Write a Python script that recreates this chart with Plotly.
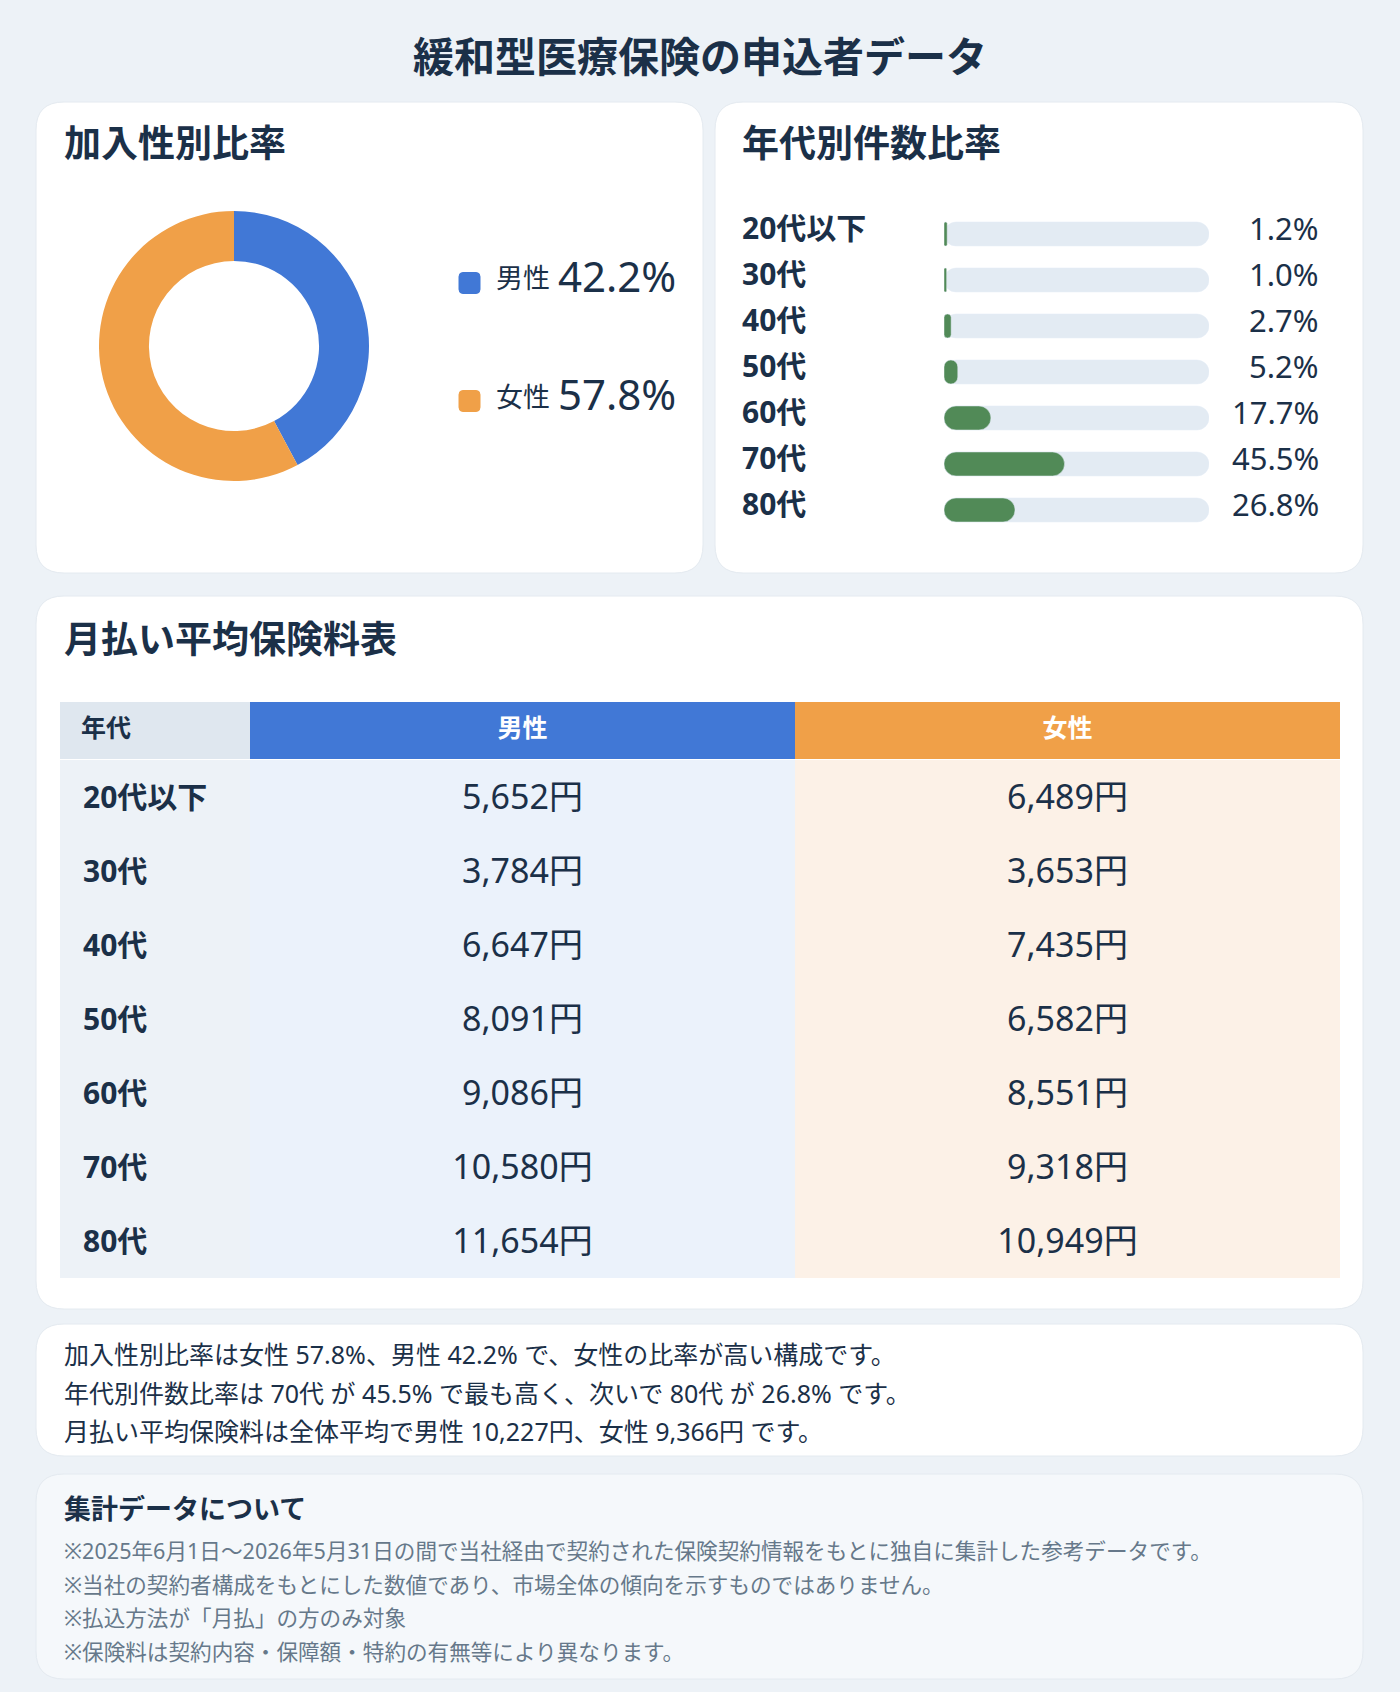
import plotly.graph_objects as go

W, H = 1400, 1692
FONT = "Noto Sans, Noto Sans CJK JP"
DARK = "#1b3048"

# ---------------- data ----------------
title_main = "緩和型医療保険の申込者データ"
gender_labels = ["男性", "女性"]
gender_share = [42.2, 57.8]
gender_colors = ["#4178d6", "#f0a048"]

age_labels = ["20代以下", "30代", "40代", "50代", "60代", "70代", "80代"]
age_share = [1.2, 1.0, 2.7, 5.2, 17.7, 45.5, 26.8]
track_full = [100] * len(age_labels)

premium_male = [5652, 3784, 6647, 8091, 9086, 10580, 11654]
premium_female = [6489, 3653, 7435, 6582, 8551, 9318, 10949]
table_header = ["年代", "男性", "女性"]

summary_lines = [
    "加入性別比率は女性 57.8%、男性 42.2% で、女性の比率が高い構成です。",
    "年代別件数比率は 70代 が 45.5% で最も高く、次いで 80代 が 26.8% です。",
    "月払い平均保険料は全体平均で男性 10,227円、女性 9,366円 です。",
]
notes_title = "集計データについて"
notes_lines = [
    "※2025年6月1日～2026年5月31日の間で当社経由で契約された保険契約情報をもとに独自に集計した参考データです。",
    "※当社の契約者構成をもとにした数値であり、市場全体の傾向を示すものではありません。",
    "※払込方法が「月払」の方のみ対象",
    "※保険料は契約内容・保障額・特約の有無等により異なります。",
]

# table layout (column widths in px, fills)
col_w = [190, 545, 545]
col_fill = ["#edf2f7", "#ebf2fb", "#fcf1e7"]
col_pad = 23


def px(x):
    return x / W


def py(y):
    return 1 - y / H


def rrect(x0, y0, x1, y1, r, fill, line="#e4eaf0"):
    pts = [
        f"M{px(x0 + r)},{py(y0)}",
        f"L{px(x1 - r)},{py(y0)}",
        f"Q{px(x1)},{py(y0)} {px(x1)},{py(y0 + r)}",
        f"L{px(x1)},{py(y1 - r)}",
        f"Q{px(x1)},{py(y1)} {px(x1 - r)},{py(y1)}",
        f"L{px(x0 + r)},{py(y1)}",
        f"Q{px(x0)},{py(y1)} {px(x0)},{py(y1 - r)}",
        f"L{px(x0)},{py(y0 + r)}",
        f"Q{px(x0)},{py(y0)} {px(x0 + r)},{py(y0)}",
        "Z",
    ]
    return dict(type="path", xref="paper", yref="paper", path=" ".join(pts),
                fillcolor=fill, line=dict(color=line, width=1), layer="below")


fig = go.Figure()
n = len(age_labels)

# ---------------- donut ----------------
cx, cy, r = 234, 346, 135
fig.add_trace(go.Pie(
    labels=gender_labels, values=gender_share, hole=0.63, sort=False,
    direction="clockwise", rotation=0,
    marker=dict(colors=gender_colors, line=dict(width=0)),
    textinfo="none", hoverinfo="label+percent", showlegend=False,
    domain=dict(x=[px(cx - r), px(cx + r)], y=[py(cy + r), py(cy - r)]),
))

# ---------------- age bars (track and value on overlaid axes) ----------------
fig.add_trace(go.Bar(
    x=track_full, base=[0] * n, y=age_labels, orientation="h",
    marker=dict(color="#e3ebf3", cornerradius=12),
    xaxis="x", yaxis="y", hoverinfo="skip", showlegend=False,
))
fig.add_trace(go.Bar(
    x=age_share, base=[0] * n, y=age_labels, orientation="h",
    marker=dict(color="#518a57", cornerradius=12),
    xaxis="x3", yaxis="y3", showlegend=False,
    hovertemplate="%{y}: %{x}%<extra></extra>",
))

# ---------------- table body: column fills ----------------
for i in range(3):
    fig.add_trace(go.Bar(
        x=[col_w[i]] * n, base=[sum(col_w[:i])] * n, y=age_labels, orientation="h",
        width=1, marker=dict(color=col_fill[i], line=dict(width=0), cornerradius=0),
        xaxis="x2", yaxis="y2", hoverinfo="skip", showlegend=False,
    ))

# table body text
fig.add_trace(go.Scatter(
    x=[col_pad] * n, y=age_labels, mode="text", text=age_labels,
    textposition="middle right", xaxis="x2", yaxis="y4",
    textfont=dict(family=FONT, size=30, color=DARK, weight="bold"),
    hoverinfo="skip", showlegend=False,
))
fig.add_trace(go.Scatter(
    x=[col_w[0] + col_w[1] / 2] * n, y=age_labels, mode="text",
    text=[f"{v:,}円" for v in premium_male],
    textposition="middle center", xaxis="x2", yaxis="y4",
    textfont=dict(family=FONT, size=34, color=DARK),
    hoverinfo="skip", showlegend=False,
))
fig.add_trace(go.Scatter(
    x=[col_w[0] + col_w[1] + col_w[2] / 2] * n, y=age_labels, mode="text",
    text=[f"{v:,}円" for v in premium_female],
    textposition="middle center", xaxis="x2", yaxis="y4",
    textfont=dict(family=FONT, size=34, color=DARK),
    hoverinfo="skip", showlegend=False,
))

# table header
fig.add_trace(go.Table(
    domain=dict(x=[px(60), px(1340)], y=[py(760), py(702)]),
    columnwidth=col_w,
    header=dict(
        values=[f"\u00a0\u00a0<b>{table_header[0]}</b>",
                f"<b>{table_header[1]}</b>", f"<b>{table_header[2]}</b>"],
        fill_color=["#dfe7ef", gender_colors[0], gender_colors[1]],
        line=dict(width=0, color="rgba(0,0,0,0)"),
        align=["left", "center", "center"],
        font=dict(family=FONT, size=25, color=[DARK, "white", "white"]),
        height=58,
    ),
    cells=dict(values=[[], [], []], height=1,
               fill_color="rgba(0,0,0,0)", line=dict(width=0, color="rgba(0,0,0,0)")),
))

shapes = [
    rrect(36, 102, 703, 573, 28, "white"),
    rrect(715, 102, 1363, 573, 28, "white"),
    rrect(36, 596, 1363, 1309, 28, "white"),
    rrect(36, 1324, 1363, 1456, 28, "white"),
    rrect(36, 1474, 1363, 1679, 28, "#f5f8fb"),
]

annotations = []


def text(x, y, s, size, color=DARK, bold=False, anchor="left", **kw):
    annotations.append(dict(
        x=px(x), y=py(y), xref="paper", yref="paper", text=s, showarrow=False,
        xanchor=anchor, yanchor="middle",
        font=dict(family=FONT, size=size, color=color, weight="bold" if bold else "normal"),
        **kw))


text(700, 56, title_main, 41, bold=True, anchor="center")
text(62, 143, "加入性別比率", 37, bold=True)
text(740, 143, "年代別件数比率", 37, bold=True)
text(62, 638, "月払い平均保険料表", 37, bold=True)

# donut legend
leg_y = [283, 401]
for lab, val, col, yy in zip(gender_labels, gender_share, gender_colors, leg_y):
    shapes.append(rrect(459, yy - 10.5, 480, yy + 10.5, 4, col, line=col))
    text(494, yy - 5, lab, 27)
    text(556, yy - 8, f"{val:.1f}%", 42)

# age labels and values
for lab, val in zip(age_labels, age_share):
    annotations.append(dict(
        x=px(740), y=lab, xref="paper", yref="y", showarrow=False,
        xanchor="left", yanchor="middle", yshift=7, text=lab,
        font=dict(family=FONT, size=30, color=DARK, weight="bold")))
    annotations.append(dict(
        x=px(1321), y=lab, xref="paper", yref="y", showarrow=False,
        xanchor="right", yanchor="middle", yshift=6, text=f"{val:.1f}%",
        font=dict(family=FONT, size=31, color=DARK)))

for s, yy in zip(summary_lines, [1354, 1393, 1431]):
    text(62, yy, s, 25)

text(62, 1508, notes_title, 27, bold=True)
for s, yy in zip(notes_lines, [1550, 1584, 1617, 1651]):
    text(62, yy, s, 21.6, color="#66788a")

fig.update_layout(
    width=W, height=H, margin=dict(l=0, r=0, t=0, b=0),
    paper_bgcolor="#edf2f7", plot_bgcolor="rgba(0,0,0,0)",
    font=dict(family=FONT, color=DARK),
    barmode="overlay", bargap=0.478,
    xaxis=dict(domain=[px(944), px(1209)], range=[0, 100], visible=False, fixedrange=True),
    yaxis=dict(domain=[py(533), py(211)], type="category", categoryarray=age_labels,
               range=[n - 0.5, -0.5], visible=False, fixedrange=True),
    xaxis3=dict(overlaying="x", range=[0, 100], visible=False, fixedrange=True),
    yaxis3=dict(overlaying="y", type="category", categoryarray=age_labels,
                range=[n - 0.5, -0.5], visible=False, fixedrange=True),
    xaxis2=dict(domain=[px(60), px(1340)], range=[0, sum(col_w)], visible=False, fixedrange=True),
    yaxis2=dict(domain=[py(1278), py(760)], type="category", categoryarray=age_labels,
                range=[n - 0.5, -0.5], visible=False, fixedrange=True),
    yaxis4=dict(domain=[py(1281), py(763)], type="category", categoryarray=age_labels,
                range=[n - 0.5, -0.5], visible=False, fixedrange=True),
    shapes=shapes, annotations=annotations,
)

fig.write_html("out.html", config={"displayModeBar": False},
               post_script="document.body.style.margin='0';document.body.style.background='#edf2f7';")
